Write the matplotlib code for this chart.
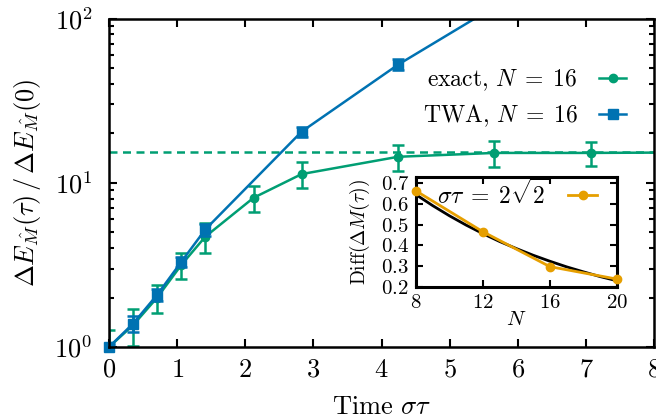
import numpy as np
import matplotlib
matplotlib.use("Agg")
import matplotlib.pyplot as plt

plt.rcParams['font.family'] = 'serif'
plt.rcParams['font.serif'] = ['cmr10']
plt.rcParams['mathtext.fontset'] = 'cm'
plt.rcParams['axes.unicode_minus'] = False
plt.rcParams['axes.formatter.use_mathtext'] = True

GREEN = '#009E73'
BLUE = '#0072B2'
ORANGE = '#E69F00'

# main data
t_exact = [0.0, 0.354, 0.707, 1.061, 1.414, 2.121, 2.828, 4.243, 5.657, 7.071, 8.485]
y_exact = [1.0, 1.36, 2.0, 3.16, 4.7, 8.1, 11.3, 14.4, 15.2, 15.2, 15.3]
e_exact = [0.27, 0.35, 0.4, 0.57, 0.97, 1.45, 2.0, 2.55, 2.65, 2.6, 2.6]

t_twa = [0.0, 0.354, 0.707, 1.061, 1.414, 2.828, 4.243, 5.657]
y_twa = [1.0, 1.39, 2.08, 3.3, 5.2, 20.5, 52.4, 118.0]
e_twa = [0.05, 0.15, 0.17, 0.25, 0.45, 1.5, 4.0, 9.0]

plateau = 15.45

# inset data
N_pts = [8, 12, 16, 20]
diff_pts = [0.663, 0.466, 0.298, 0.238]
N_fit = [8, 9, 10, 11, 12, 13, 14, 15, 16, 17, 18, 19, 20]
diff_fit = [0.645, 0.592, 0.543, 0.498, 0.457, 0.419, 0.385, 0.353, 0.324, 0.297, 0.273, 0.250, 0.230]

FS = 19

fig = plt.figure(figsize=(6.56, 4.2), dpi=100)
ax = fig.add_axes([0.1662, 0.1738, 0.8308, 0.782])

ax.axhline(plateau, color=GREEN, lw=1.8, ls=(0, (3.2, 2.2)), zorder=1)

ax.errorbar(t_exact, y_exact, yerr=e_exact, fmt='none', ecolor=GREEN,
            elinewidth=1.8, capsize=4, capthick=1.8, zorder=2)
l1, = ax.plot(t_exact, y_exact, color=GREEN, lw=1.8, marker='o', ms=6,
              label=r'exact, $N\;=\;16$', zorder=3)
ax.errorbar(t_twa, y_twa, yerr=e_twa, fmt='none', ecolor=BLUE,
            elinewidth=1.8, capsize=4, capthick=1.8, zorder=4)
l2, = ax.plot(t_twa, y_twa, color=BLUE, lw=1.8, marker='s', ms=6.5,
              label=r'TWA, $N\;=\;16$', zorder=5)
# unclipped marker for the TWA point at the origin corner
ax.plot(t_twa[:1], y_twa[:1], ls='none', color=BLUE, marker='s', ms=6.5,
        clip_on=False, zorder=6)

ax.set_yscale('log')
ax.set_xlim(0, 8)
ax.set_ylim(1, 100)
ax.set_xticks(range(0, 9))
for s in ax.spines.values():
    s.set_linewidth(1.8)
    s.set_zorder(10)
ax.tick_params(which='both', direction='in', top=True, right=True, labelsize=FS)
ax.tick_params(which='major', length=6, width=1.5)
ax.tick_params(which='minor', length=3.5, width=1.5)
ax.tick_params(axis='x', which='major', pad=8)
ax.tick_params(axis='y', which='major', pad=12)
ax.set_xlabel(r'Time $\sigma\tau$', fontsize=FS, labelpad=10)
ax.set_ylabel(r'$\Delta E_{\hat{M}}(\tau)\,/\,\Delta E_{\hat{M}}(0)$', fontsize=FS, labelpad=8)

leg = ax.legend(handles=[l1, l2], loc='upper right', bbox_to_anchor=(0.949, 0.85),
                frameon=False, markerfirst=False, fontsize=17, handlelength=1.15,
                handletextpad=0.9, borderaxespad=0, borderpad=0, labelspacing=0.4)

# inset
ins = fig.add_axes([0.634, 0.3167, 0.3064, 0.262])
ins.set_facecolor('white')
ins.plot(N_fit, diff_fit, color='black', lw=2.0, zorder=2)
li, = ins.plot(N_pts, diff_pts, color=ORANGE, lw=2.0, marker='o', ms=6,
               label=r'$\sigma\tau\;=\;2\sqrt{2}$', zorder=3, clip_on=False)
ins.set_xlim(8, 20)
ins.set_ylim(0.2, 0.73)
ins.set_xticks([8, 12, 16, 20])
ins.set_yticks([0.2, 0.3, 0.4, 0.5, 0.6, 0.7])
for s in ins.spines.values():
    s.set_linewidth(2.2)
ins.tick_params(direction='in', top=True, right=True, labelsize=15, length=5, width=1.5, pad=5)
ins.set_xlabel(r'$N$', fontsize=15, labelpad=-1)
ins.set_ylabel(r'Diff$(\Delta M(\tau))$', fontsize=14, labelpad=6)
ins.legend(handles=[li], loc='upper right', bbox_to_anchor=(0.9, 0.98), frameon=False,
           markerfirst=False, fontsize=17, handlelength=1.2, handletextpad=0.8,
           borderaxespad=0, borderpad=0)

fig.savefig('out.png', dpi=100)
